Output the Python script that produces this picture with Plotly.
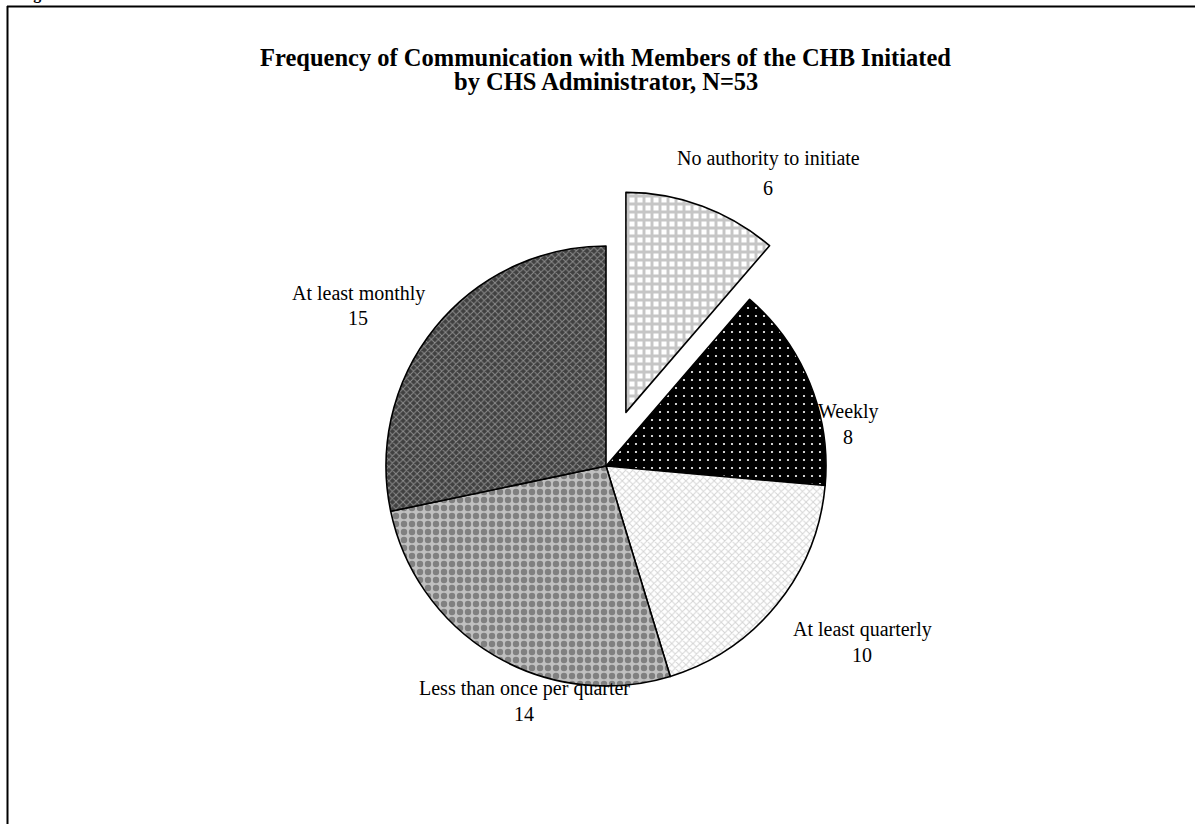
import plotly.graph_objects as go

categories = ["No authority to initiate", "Weekly", "At least quarterly",
              "Less than once per quarter", "At least monthly"]
values = [6, 8, 10, 14, 15]
pulls = [0.26, 0, 0, 0, 0]
title_lines = ["Frequency of Communication with Members of the CHB Initiated",
               "by CHS Administrator, N=53"]

W, H = 1195, 824

def px(x):
    return x / W

def py(y):
    return 1 - y / H

# pie geometry (center ~ (606,466), radius ~220 px)
cx, cy, r = 606, 466, 220
half = r * (1 + max(pulls))

fig = go.Figure(go.Pie(
    labels=categories,
    values=values,
    sort=False,
    direction="clockwise",
    rotation=0,
    pull=pulls,
    textinfo="none",
    hoverinfo="label+value",
    showlegend=False,
    domain=dict(x=[px(cx - half), px(cx + half)],
                y=[py(cy + half), py(cy - half)]),
    marker=dict(
        colors=["#ffffff", "#000000", "#ffffff", "#c0c0c0", "#404040"],
        line=dict(color="#000000", width=1.6),
        pattern=dict(
            shape=["+", ".", "x", ".", "x"],
            fgcolor=["#c6c6c6", "#ffffff", "#d4d4d4", "#808080", "#8c8c8c"],
            bgcolor=["#ffffff", "#000000", "#ffffff", "#c0c0c0", "#404040"],
            size=[8, 8, 5, 8, 5],
            solidity=[0.6, 0.06, 0.35, 0.5, 0.35],
            fillmode="replace",
        ),
    ),
))

serif = "Liberation Serif, Times New Roman, serif"

annotations = []
# title
for line, yy in zip(title_lines, [57, 81]):
    annotations.append(dict(text="<b>%s</b>" % line, x=px(606), y=py(yy),
                            xref="paper", yref="paper", showarrow=False,
                            xanchor="center", yanchor="middle",
                            font=dict(family=serif, size=24.5, color="#000000")))

# data labels (label line + value line)
label_pos = [(768, 158, 188), (848, 411, 437), (862, 629, 655),
             (524, 688, 714), (358, 293, 318)]
for cat, val, (lx, ly, vy) in zip(categories, values, label_pos):
    annotations.append(dict(text=cat, x=px(lx), y=py(ly), xref="paper", yref="paper",
                            showarrow=False, xanchor="center", yanchor="middle",
                            font=dict(family=serif, size=20, color="#000000")))
    annotations.append(dict(text=str(val), x=px(lx), y=py(vy), xref="paper", yref="paper",
                            showarrow=False, xanchor="center", yanchor="middle",
                            font=dict(family=serif, size=20, color="#000000")))

# cut-off figure caption at the very top
annotations.append(dict(text="<b>Figure 6</b>", x=px(17), y=py(5), xref="paper", yref="paper",
                        showarrow=False, xanchor="left", yanchor="bottom",
                        font=dict(family=serif, size=16, color="#000000")))

shapes = [
    dict(type="line", xref="paper", yref="paper", x0=px(7), x1=1.0, y0=py(6.5), y1=py(6.5),
         line=dict(color="#000000", width=2)),
    dict(type="line", xref="paper", yref="paper", x0=px(7.5), x1=px(7.5), y0=py(6), y1=0,
         line=dict(color="#000000", width=2)),
]

fig.update_layout(
    width=W, height=H,
    margin=dict(l=0, r=0, t=0, b=0),
    paper_bgcolor="#ffffff",
    plot_bgcolor="#ffffff",
    annotations=annotations,
    shapes=shapes,
)

fig.write_html("out.html")
